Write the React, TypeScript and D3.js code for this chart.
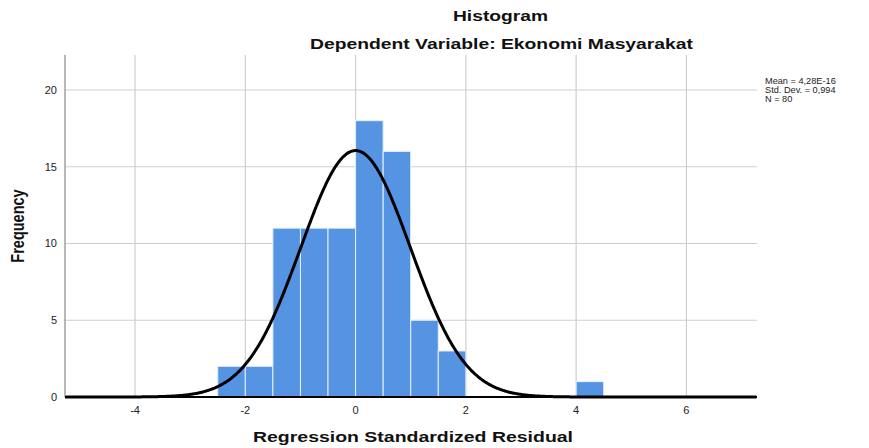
import React from "react";
import * as d3 from "d3";

const binStarts = [-2.5, -2, -1.5, -1, -0.5, 0, 0.5, 1, 1.5, 4];
const binCounts = [2, 2, 11, 11, 11, 18, 16, 5, 3, 1];
const binWidth = 0.5;
const xTicks = [-4, -2, 0, 2, 4, 6];
const yTicks = [0, 5, 10, 15, 20];
const mean = 4.28e-16;
const sd = 0.994;
const n = 80;
const legendLines = ["Mean = 4,28E-16", "Std. Dev. = 0,994", "N = 80"];

export default function App() {
  const W = 869, H = 448;
  const left = 65, right = 757, top = 55, bottom = 397;
  const x = d3.scaleLinear().domain([-5.27, 7.28]).range([left, right]);
  const y = d3.scaleLinear().domain([0, 22.28]).range([bottom, top]);
  const font = "Liberation Sans, Arial, sans-serif";

  const pts = d3.range(-5.27, 7.281, 0.02).map((v) => {
    const pdf = Math.exp(-0.5 * ((v - mean) / sd) ** 2) / (sd * Math.sqrt(2 * Math.PI));
    return [v, n * binWidth * pdf] as [number, number];
  });
  const line = d3.line<[number, number]>().x((d) => x(d[0])).y((d) => y(d[1]))(pts) || "";

  return (
    <svg width={W} height={H} style={{ position: "absolute", left: 0, top: 0, background: "#fff" }}>
      <rect x={0} y={0} width={W} height={H} fill="#fff" />
      {xTicks.map((t) => (
        <line key={"gx" + t} x1={x(t)} x2={x(t)} y1={top} y2={bottom} stroke="#cfcfcf" strokeWidth={1.2} />
      ))}
      {yTicks.filter((t) => t > 0).map((t) => (
        <line key={"gy" + t} x1={left} x2={right} y1={y(t)} y2={y(t)} stroke="#cfcfcf" strokeWidth={1.2} />
      ))}
      {binStarts.map((b, i) => (
        <rect
          key={"b" + i}
          x={x(b)}
          y={y(binCounts[i])}
          width={x(b + binWidth) - x(b)}
          height={bottom - y(binCounts[i])}
          fill="#5593e3"
          stroke="#e8f0fb"
          strokeWidth={1}
        />
      ))}
      <path d={line} fill="none" stroke="#000" strokeWidth={3} />
      <line x1={left} x2={left} y1={top} y2={bottom} stroke="#a0a0a0" strokeWidth={1.5} />
      <line x1={left} x2={right} y1={bottom} y2={bottom} stroke="#000" strokeWidth={2} />
      {yTicks.map((t) => (
        <text key={"ty" + t} x={left - 8} y={y(t) + 4} textAnchor="end" fontFamily={font} fontSize={11} fill="#222">
          {t}
        </text>
      ))}
      {xTicks.map((t) => (
        <text key={"tx" + t} x={x(t)} y={414} textAnchor="middle" fontFamily={font} fontSize={11} fill="#222">
          {t}
        </text>
      ))}
      <text x={453} y={21} textLength={95} lengthAdjust="spacingAndGlyphs" fontFamily={font} fontSize={15.5} fontWeight="bold" fill="#111">
        Histogram
      </text>
      <text x={310} y={49} textLength={383} lengthAdjust="spacingAndGlyphs" fontFamily={font} fontSize={15.5} fontWeight="bold" fill="#111">
        Dependent Variable: Ekonomi Masyarakat
      </text>
      <text x={253} y={442} textLength={320} lengthAdjust="spacingAndGlyphs" fontFamily={font} fontSize={15.5} fontWeight="bold" fill="#111">
        Regression Standardized Residual
      </text>
      <text
        transform={`translate(24,${226}) scale(1.25,1) rotate(-90)`}
        textAnchor="middle"
        fontFamily={font}
        fontSize={14.5}
        fontWeight="bold"
        fill="#111"
      >
        Frequency
      </text>
      {legendLines.map((s, i) => (
        <text key={"l" + i} x={765} y={83.5 + i * 9} fontFamily={font} fontSize={9.2} fill="#222">
          {s}
        </text>
      ))}
    </svg>
  );
}
